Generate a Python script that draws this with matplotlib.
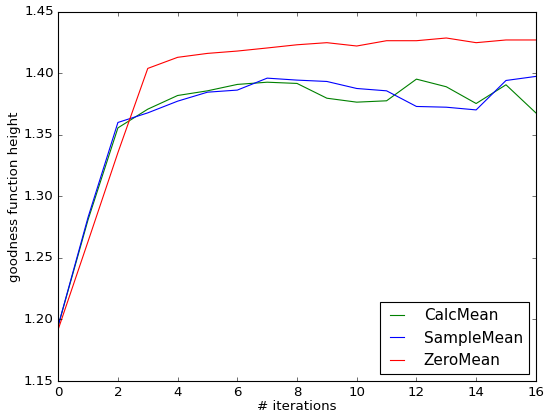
import matplotlib
matplotlib.use('Agg')
import matplotlib.pyplot as plt
import numpy as np

plt.style.use('classic')

iterations = np.arange(17)
calc_mean = [1.195, 1.281, 1.3556, 1.3708, 1.3819, 1.3857, 1.3909, 1.3927, 1.3917,
             1.3797, 1.3765, 1.3776, 1.3952, 1.389, 1.3754, 1.3906, 1.3678]
sample_mean = [1.195, 1.283, 1.36, 1.3678, 1.3773, 1.3846, 1.3863, 1.396, 1.3944,
               1.3933, 1.3876, 1.3857, 1.373, 1.3724, 1.3702, 1.3941, 1.3974]
zero_mean = [1.192, 1.2634, 1.3355, 1.4039, 1.4129, 1.4161, 1.418, 1.4205, 1.4231,
             1.4248, 1.4221, 1.4264, 1.4264, 1.4286, 1.4248, 1.427, 1.427]

fig = plt.figure(figsize=(6.8, 5.2), dpi=80, facecolor='white')
ax = fig.add_axes([0.107, 0.084, 0.878, 0.888])

ax.plot(iterations, calc_mean, color='g', label='CalcMean')
ax.plot(iterations, sample_mean, color='b', label='SampleMean')
ax.plot(iterations, zero_mean, color='r', label='ZeroMean')

ax.set_xlim(0, 16)
ax.set_ylim(1.15, 1.45)
ax.set_xlabel('# iterations', labelpad=1)
ax.set_ylabel('goodness function height', labelpad=3)
ax.legend(loc='lower right', fontsize=13.7, handlelength=1.5,
          handletextpad=1.0, borderaxespad=0.45)

fig.savefig('out.png', dpi=80, facecolor='white')
